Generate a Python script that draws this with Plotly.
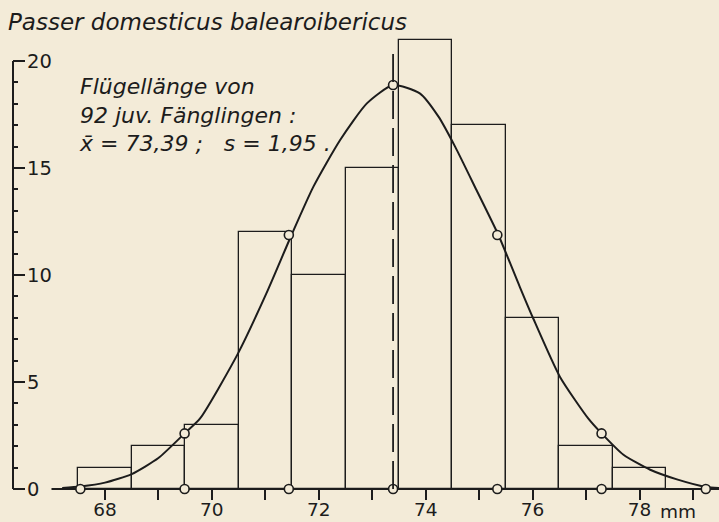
import plotly.graph_objects as go

# ---- data ----
bin_centers = [68, 69, 70, 71, 72, 73, 74, 75, 76, 77, 78]
counts = [1, 2, 3, 12, 10, 15, 21, 17, 8, 2, 1]

curve_x = [67.2, 67.54, 68.0, 68.5, 69.0, 69.49, 69.78, 70.49, 71.02, 71.49, 71.9,
           72.4, 72.9, 73.39, 73.89, 74.24, 74.55, 74.95, 75.36, 75.76, 76.01,
           76.51, 77.04, 77.29, 77.7, 78.2, 78.7, 79.24, 79.49]
curve_y = [0.05, 0.12, 0.3, 0.7, 1.45, 2.6, 3.3, 6.34, 9.14, 11.87, 14.13,
           16.31, 18.02, 18.88, 18.49, 17.4, 16.0, 13.97, 11.87, 9.45, 7.98,
           5.25, 3.3, 2.6, 1.6, 0.9, 0.45, 0.1, 0.05]

sigma_x = [67.54, 69.49, 71.44, 73.39, 75.34, 77.29, 79.24]
sigma_curve_x = [69.49, 71.44, 73.39, 75.34, 77.29]
sigma_curve_y = [2.6, 11.87, 18.88, 11.87, 2.6]

mean_value = 73.39
x_tickvals = [67, 68, 69, 70, 71, 72, 73, 74, 75, 76, 77, 78, 79]
x_ticktext = ["", "68", "", "70", "", "72", "", "74", "", "76", "", "78", ""]
y_tickvals = [0, 5, 10, 15, 20]
y_minorvals = [1, 2, 3, 4, 6, 7, 8, 9, 11, 12, 13, 14, 16, 17, 18, 19]

BG = "#f3ebd8"
INK = "#1c1c1c"
FONT = "DejaVu Sans"

y_range = [-1.54, 22.85]
x_range = [66.28, 79.487]

fig = go.Figure()

fig.add_trace(go.Bar(
    x=bin_centers, y=counts, width=1,
    marker=dict(color="rgba(0,0,0,0)", line=dict(color=INK, width=1.3)),
    cliponaxis=False, hoverinfo="skip", showlegend=False,
))

fig.add_trace(go.Scatter(
    x=curve_x, y=curve_y, mode="lines",
    line=dict(color=INK, width=2, shape="spline", smoothing=0.6),
    cliponaxis=False, showlegend=False, hoverinfo="skip",
))

fig.add_trace(go.Scatter(
    x=sigma_curve_x, y=sigma_curve_y, mode="markers",
    marker=dict(size=9, color=BG, line=dict(color=INK, width=1.6)),
    cliponaxis=False, showlegend=False, hoverinfo="skip",
))
fig.add_trace(go.Scatter(
    x=sigma_x, y=[0] * len(sigma_x), mode="markers",
    marker=dict(size=9, color=BG, line=dict(color=INK, width=1.6)),
    cliponaxis=False, showlegend=False, hoverinfo="skip",
))

# x axis line (starts at 67) and y axis line (0..20)
fig.add_shape(type="line", xref="x", yref="y", x0=x_tickvals[0], x1=79.6, y0=0, y1=0,
              line=dict(color=INK, width=2), layer="below")
fig.add_shape(type="line", xref="paper", yref="y", x0=0, x1=0, y0=0, y1=y_tickvals[-1],
              line=dict(color=INK, width=2))
# mean line
fig.add_shape(type="line", xref="x", yref="y", x0=mean_value, x1=mean_value, y0=0, y1=20.6,
              line=dict(color=INK, width=1.8, dash="28px,9px"))

fig.add_annotation(
    x=67.47, y=17.47, xref="x", yref="y", xanchor="left", yanchor="middle",
    align="left", showarrow=False,
    text="Flügellänge von<br>92 juv. Fänglingen :<br>x\u0304 = 73,39 ;   s = 1,95 .",
    font=dict(family=FONT, size=22, color=INK, style="italic"),
)
fig.add_annotation(
    x=78, y=0, xref="x", yref="y", xanchor="left", yanchor="top",
    xshift=18, yshift=-10, showarrow=False, text="mm",
    font=dict(family=FONT, size=18.5, color=INK),
)

x_axis_pos = (0 - y_range[0]) / (y_range[1] - y_range[0])

fig.update_layout(
    width=719, height=522,
    margin=dict(l=13, r=0, t=0, b=0, autoexpand=False),
    paper_bgcolor=BG, plot_bgcolor=BG,
    title=dict(text="Passer domesticus balearoibericus", x=8 / 719, xanchor="left",
               xref="container", y=1 - 22 / 522, yanchor="middle", yref="container",
               pad=dict(l=0, r=0, t=0, b=0), automargin=False,
               font=dict(family=FONT, size=23, color=INK, style="italic")),
    bargap=0,
    xaxis=dict(range=x_range, showgrid=False, zeroline=False, showline=False,
               anchor="free", position=x_axis_pos, automargin=False,
               tickmode="array", tickvals=x_tickvals, ticktext=x_ticktext,
               ticks="outside", ticklen=10, tickwidth=2, tickcolor=INK,
               ticklabelstandoff=-6,
               tickfont=dict(family=FONT, size=18.5, color=INK)),
    yaxis=dict(range=y_range, showgrid=False, zeroline=False, showline=False,
               automargin=False,
               tickmode="array", tickvals=y_tickvals,
               ticks="inside", ticklen=12, tickwidth=2, tickcolor=INK,
               ticklabelposition="inside", ticklabelstandoff=3,
               tickfont=dict(family=FONT, size=19.5, color=INK),
               minor=dict(tickmode="array", tickvals=y_minorvals, ticks="inside",
                          ticklen=5, tickwidth=2, tickcolor=INK)),
)

fig.write_html(
    "out.html",
    config={"displayModeBar": False},
    post_script="document.body.style.margin='0';document.body.style.background='" + BG + "';",
)
